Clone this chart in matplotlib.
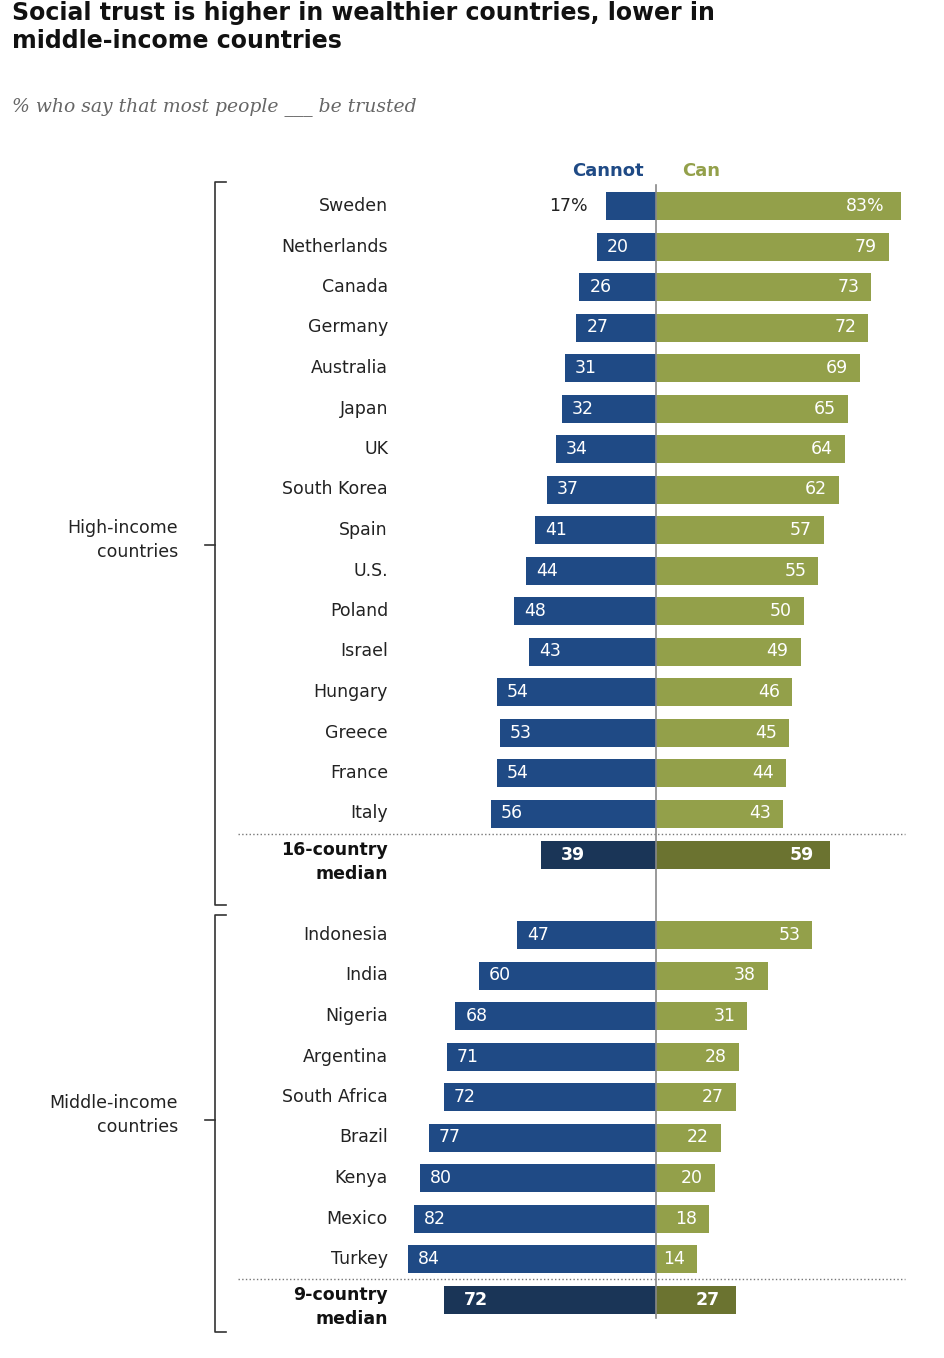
import matplotlib.pyplot as plt

high = ['Sweden', 'Netherlands', 'Canada', 'Germany', 'Australia', 'Japan', 'UK', 'South Korea',
        'Spain', 'U.S.', 'Poland', 'Israel', 'Hungary', 'Greece', 'France', 'Italy']
high_cannot = [17, 20, 26, 27, 31, 32, 34, 37, 41, 44, 48, 43, 54, 53, 54, 56]
high_can = [83, 79, 73, 72, 69, 65, 64, 62, 57, 55, 50, 49, 46, 45, 44, 43]
high_median = (39, 59)

mid = ['Indonesia', 'India', 'Nigeria', 'Argentina', 'South Africa', 'Brazil', 'Kenya', 'Mexico', 'Turkey']
mid_cannot = [47, 60, 68, 71, 72, 77, 80, 82, 84]
mid_can = [53, 38, 31, 28, 27, 22, 20, 18, 14]
mid_median = (72, 27)

BLUE = '#1f4a85'
GREEN = '#93a04a'
DBLUE = '#1a3557'
DGREEN = '#6b7330'

W, H = 944, 1358
scale = 2.95
cx = 656
FS = 12.5

fig = plt.figure(figsize=(W / 100, H / 100), dpi=100)
ax = fig.add_axes([0, 0, 1, 1])
ax.set_xlim(0, W)
ax.set_ylim(H, 0)
ax.axis('off')

def px(v):
    return v * scale

step = 40.5
bh = 28

def draw_rows(names, cannot, can, y0):
    ys = [y0 + i * step for i in range(len(names))]
    ax.barh(ys, [-px(v) for v in cannot], left=cx, height=bh, color=BLUE)
    ax.barh(ys, [px(v) for v in can], left=cx, height=bh, color=GREEN)
    for n, a, b, y in zip(names, cannot, can, ys):
        ax.text(388, y, n, ha='right', va='center', fontsize=FS, color='#222222')
        if n == 'Sweden':
            ax.text(cx - px(a) - 18, y, f'{a}%', ha='right', va='center', fontsize=FS, color='#222222')
            ax.text(cx + px(b) - 16, y, f'{b}%', ha='right', va='center', fontsize=FS, color='white')
        else:
            ax.text(cx - px(a) + 10, y, str(a), ha='left', va='center', fontsize=FS, color='white')
            ax.text(cx + px(b) - 12, y, str(b), ha='right', va='center', fontsize=FS, color='white')

def draw_median(label, vals, y):
    a, b = vals
    ax.barh([y], [-px(a)], left=cx, height=bh, color=DBLUE)
    ax.barh([y], [px(b)], left=cx, height=bh, color=DGREEN)
    ax.text(cx - px(a) + 20, y, str(a), ha='left', va='center', fontsize=FS, color='white', fontweight='bold')
    ax.text(cx + px(b) - 16, y, str(b), ha='right', va='center', fontsize=FS, color='white', fontweight='bold')
    ax.text(388, y - 14, label, ha='right', va='top', fontsize=FS, fontweight='bold',
            color='#111111', multialignment='right', linespacing=1.4)

draw_rows(high, high_cannot, high_can, 206)
ax.plot([238, 905], [834, 834], ls=':', color='#777777', lw=1)
draw_median('16-country\nmedian', high_median, 855)

draw_rows(mid, mid_cannot, mid_can, 935)
ax.plot([238, 905], [1279, 1279], ls=':', color='#777777', lw=1)
draw_median('9-country\nmedian', mid_median, 1300)

ax.plot([cx, cx], [185, 1318], color='#888888', lw=1.2)

# brackets
for top, bot, midy, lbl in [(182, 905, 545, 'High-income\ncountries'),
                            (915, 1332, 1120, 'Middle-income\ncountries')]:
    ax.plot([226, 215, 215, 226], [top, top, bot, bot], color='#333333', lw=1.2)
    ax.plot([205, 215], [midy, midy], color='#333333', lw=1.2)
    ax.text(178, midy - 5, lbl, ha='right', va='center', fontsize=FS, color='#222222', linespacing=1.4)

ax.text(608, 171, 'Cannot', ha='center', va='center', fontsize=13, fontweight='bold', color=BLUE)
ax.text(701, 171, 'Can', ha='center', va='center', fontsize=13, fontweight='bold', color=GREEN)

ax.text(12, 1, 'Social trust is higher in wealthier countries, lower in\nmiddle-income countries',
        ha='left', va='top', fontsize=17, fontweight='bold', color='#111111', linespacing=1.2)
ax.text(12, 107, '% who say that most people ___ be trusted', ha='left', va='center',
        fontsize=13.5, style='italic', family='DejaVu Serif', color='#666666')

fig.savefig('out.png', dpi=100)
